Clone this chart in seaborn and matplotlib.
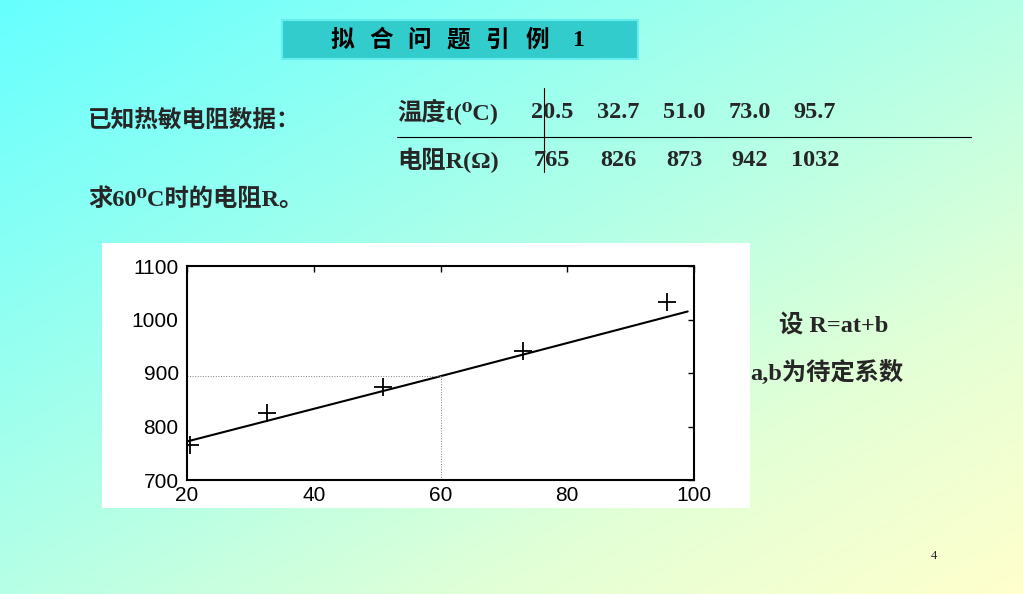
import numpy as np
import matplotlib
matplotlib.use('Agg')
import matplotlib.pyplot as plt
import seaborn as sns
from matplotlib.patches import Rectangle

# data from the slide
temps = [20.5, 32.7, 51.0, 73.0, 95.7]
resist = [765, 826, 873, 942, 1032]
temp_labels = ['20.5', '32.7', '51.0', '73.0', '95.7']
resist_labels = ['765', '826', '873', '942', '1032']
# fitted line as drawn on the slide
fit_t = [20, 60, 99]
fit_R = [772, 894, 1015]
query_t = 60
query_R = 894
xticks = [20, 40, 60, 80, 100]
yticks = [700, 800, 900, 1000, 1100]
title_chars = ['拟', '合', '问', '题', '引', '例', '1']

sns.set_theme(style='white')
W, H = 1023, 594
fig = plt.figure(figsize=(W / 100, H / 100), dpi=100)

# gradient background (cyan -> pale yellow, diagonal)
bg = fig.add_axes([0, 0, 1, 1])
xx, yy = np.meshgrid(np.linspace(0, 1, 300), np.linspace(0, 1, 200))
s = (xx + yy) / 2
stops = [0, 0.5, 0.75, 1]
r = np.interp(s, stops, [102, 182, 228, 255])
g = np.interp(s, stops, [255, 255, 255, 255])
b = np.interp(s, stops, [255, 230, 214, 204])
img = np.dstack([r, g, b]) / 255
bg.imshow(img, extent=[0, W, H, 0], aspect='auto')
bg.set_xlim(0, W)
bg.set_ylim(H, 0)
bg.axis('off')

cjk = ['Noto Sans CJK SC', 'DejaVu Sans']
serif = ['Liberation Serif', 'DejaVu Serif', 'Noto Sans CJK SC']

# title box
bg.add_patch(Rectangle((282, 20), 356, 39, facecolor='#33cccc', edgecolor='#66eeee', lw=1.5))
title_x = [342, 381, 419, 458, 497, 537, 578]
for tx, ch in zip(title_x, title_chars):
    bg.text(tx, 41, ch, family=serif, fontsize=17, fontweight='bold', ha='center', va='center', color='black')

bg.text(88, 120, '已知热敏电阻数据：', family=cjk, fontsize=17, fontweight='bold', ha='left', va='center')
bg.text(88, 200, '求60⁰C时的电阻R。', family=serif, fontsize=17.5, fontweight='bold', ha='left', va='center')

# data table
bg.text(397, 112, '温度t(⁰C)', family=serif, fontsize=17.5, fontweight='bold', ha='left', va='center')
bg.text(397, 160, '电阻R(Ω)', family=serif, fontsize=17.5, fontweight='bold', ha='left', va='center')
col_x = [552, 618, 684, 750, 815]
for cx, tl, rl in zip(col_x, temp_labels, resist_labels):
    bg.text(cx, 112, tl, family=serif, fontsize=17.5, fontweight='bold', ha='center', va='center')
    bg.text(cx, 160, rl, family=serif, fontsize=17.5, fontweight='bold', ha='center', va='center')
bg.plot([397, 971], [137, 137], color='black', lw=0.8)
bg.plot([544, 544], [88, 172], color='black', lw=0.8)

bg.text(779, 325, '设 R=at+b', family=serif, fontsize=17.5, fontweight='bold', ha='left', va='center')
bg.text(750, 373, 'a,b为待定系数', family=serif, fontsize=17.5, fontweight='bold', ha='left', va='center')
bg.text(934, 556, '4', family=serif, fontsize=9, ha='center', va='center')

# white panel behind the chart
bg.add_patch(Rectangle((102, 243), 648, 265, facecolor='white', edgecolor='none'))

# chart
ax = fig.add_axes([187 / W, 1 - 480 / H, (694 - 187) / W, (480 - 266) / H])
ax.set_facecolor('white')
sns.lineplot(x=fit_t, y=fit_R, ax=ax, color='black', lw=1.5)
sns.scatterplot(x=temps, y=resist, ax=ax, marker='+', s=180, color='black', linewidth=1.3)
ax.plot([xticks[0], query_t], [query_R, query_R], color='gray', lw=0.7, ls=':')
ax.plot([query_t, query_t], [yticks[0], query_R], color='gray', lw=0.7, ls=':')
ax.set_xlim(20, 100)
ax.set_ylim(700, 1100)
ax.set_xticks(xticks)
ax.set_yticks(yticks)
ax.tick_params(direction='in', top=True, right=True, length=4, width=1, colors='black',
               labelsize=15)
ax.tick_params(axis='x', pad=4)
ax.tick_params(axis='y', pad=6)
for lab in ax.get_xticklabels() + ax.get_yticklabels():
    lab.set_family('Liberation Sans')
for sp in ax.spines.values():
    sp.set_color('black')
    sp.set_linewidth(1.5)

fig.savefig('out.png', dpi=100)
